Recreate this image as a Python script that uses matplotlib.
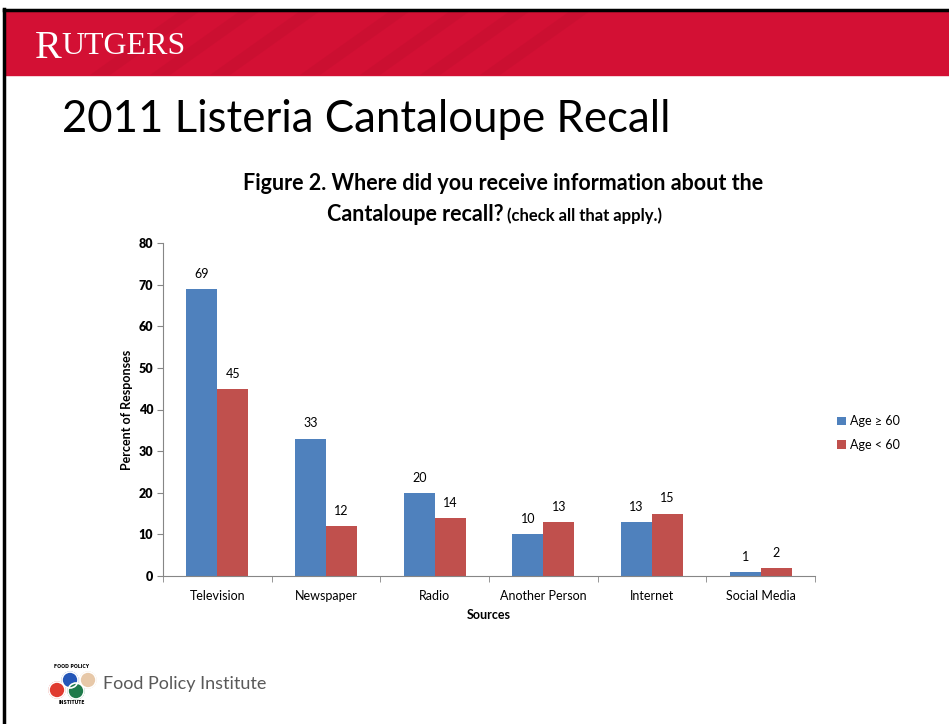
import numpy as np
import matplotlib.pyplot as plt
from matplotlib.patches import Rectangle, Circle, Polygon

# chart data
sources = ['Television', 'Newspaper', 'Radio', 'Another Person', 'Internet', 'Social Media']
age_over_60 = [69, 33, 20, 10, 13, 1]
age_under_60 = [45, 12, 14, 13, 15, 2]
series_names = ['Age \u2265 60', 'Age < 60']
yticks = [0, 10, 20, 30, 40, 50, 60, 70, 80]

BLUE = '#4F81BD'
RED = '#C0504D'
FONT = ['Lato', 'DejaVu Sans']

fig = plt.figure(figsize=(9.49, 7.24), dpi=100)
W, H = 949, 724

# slide decoration, in pixel coordinates
deco = fig.add_axes([0, 0, 1, 1])
deco.set_xlim(0, W)
deco.set_ylim(H, 0)
deco.axis('off')
deco.add_patch(Rectangle((4, 10), W, 65, color='#D31034', zorder=1))
# faint darker stripes in the header
for x0 in [90, 150, 210, 300, 360, 420, 480]:
    deco.add_patch(Polygon([[x0, 75], [x0 + 20, 75], [x0 + 110, 11], [x0 + 90, 11]],
                           closed=True, color='#C60F30', alpha=0.6, zorder=1.5, lw=0))
deco.plot([4, W], [10, 10], color='black', lw=2.5, zorder=3)
deco.plot([4, 4], [9, H], color='black', lw=2.5, zorder=3)
deco.text(35, 58, 'R', color='white', fontsize=29, family='Liberation Serif', zorder=4)
deco.text(61, 54, 'UTGERS', color='white', fontsize=23, family='Liberation Serif', zorder=4)
deco.text(62, 119, '2011 Listeria Cantaloupe Recall', fontsize=31.5, family=FONT,
          va='center', ha='left', color='black')

# food policy logo
logo = [((57, 690), '#E03A2F'), ((70, 680), '#2456B8'),
        ((76, 691), '#1E7A4A'), ((88, 680), '#E7C8A8')]
for (cx, cy), col in logo:
    deco.add_patch(Circle((cx, cy), 8, color=col, zorder=2))
for (cx, cy), col in logo:
    deco.add_patch(Circle((cx, cy), 8, fill=False, ec='white', lw=1.2, zorder=3))
deco.text(72, 667, 'FOOD POLICY', fontsize=3.3, ha='center', va='center', weight='bold')
deco.text(72, 703, 'INSTITUTE', fontsize=3.3, ha='center', va='center', weight='bold')
deco.text(103, 684, 'Food Policy Institute', fontsize=13, family=FONT,
          color='#595959', va='center')

# chart
ax = fig.add_axes([163 / W, 1 - 576 / H, (815 - 163) / W, (576 - 243) / H])
x = np.arange(len(sources))
bw = 0.285
b1 = ax.bar(x - bw / 2, age_over_60, bw, color=BLUE, label=series_names[0])
b2 = ax.bar(x + bw / 2, age_under_60, bw, color=RED, label=series_names[1])
for bars, vals in [(b1, age_over_60), (b2, age_under_60)]:
    for b, v in zip(bars, vals):
        ax.text(b.get_x() + b.get_width() / 2, v + 2.2, str(v), ha='center', va='bottom',
                fontsize=9, family=FONT)

ax.set_xlim(-0.5, len(sources) - 0.5)
ax.set_ylim(0, 80)
ax.set_yticks(yticks)
ax.set_yticklabels([str(t) for t in yticks])
for lbl in ax.get_yticklabels():
    lbl.set_fontfamily(FONT)
    lbl.set_fontweight('heavy')
    lbl.set_fontsize(9)
ax.set_xticks(x)
ax.set_xticklabels(sources, fontsize=9, family=FONT)
ax.set_xticks(np.arange(-0.5, len(sources)), minor=True)
ax.tick_params(axis='x', which='major', length=0, pad=10)
ax.tick_params(axis='x', which='minor', length=4, color='#868686')
ax.tick_params(axis='y', length=4, color='#868686', pad=3)
for s in ['top', 'right']:
    ax.spines[s].set_visible(False)
for s in ['left', 'bottom']:
    ax.spines[s].set_color('#868686')
ax.set_xlabel('Sources', fontsize=9, weight='bold', family=FONT, labelpad=5)
ax.set_ylabel('Percent of Responses', fontsize=9, weight='bold', family=FONT, labelpad=4)

fig.text(503 / W, 1 - 184 / H, 'Figure 2. Where did you receive information about the',
         ha='center', va='center', fontsize=15.5, weight='bold', family=FONT)
fig.text(327 / W, 1 - 221 / H, 'Cantaloupe recall?', ha='left', va='baseline',
         fontsize=15.5, weight='bold', family=FONT)
fig.text(507 / W, 1 - 221 / H, '(check all that apply.)', ha='left', va='baseline',
         fontsize=12, weight='bold', family=FONT)

ax.legend(loc='center left', bbox_to_anchor=(826 / W, 1 - 433 / H), bbox_transform=fig.transFigure,
          frameon=False, prop={'family': FONT, 'size': 9}, handlelength=0.7, handleheight=0.7,
          handletextpad=0.35, labelspacing=0.9)

fig.savefig('out.png', dpi=100)
